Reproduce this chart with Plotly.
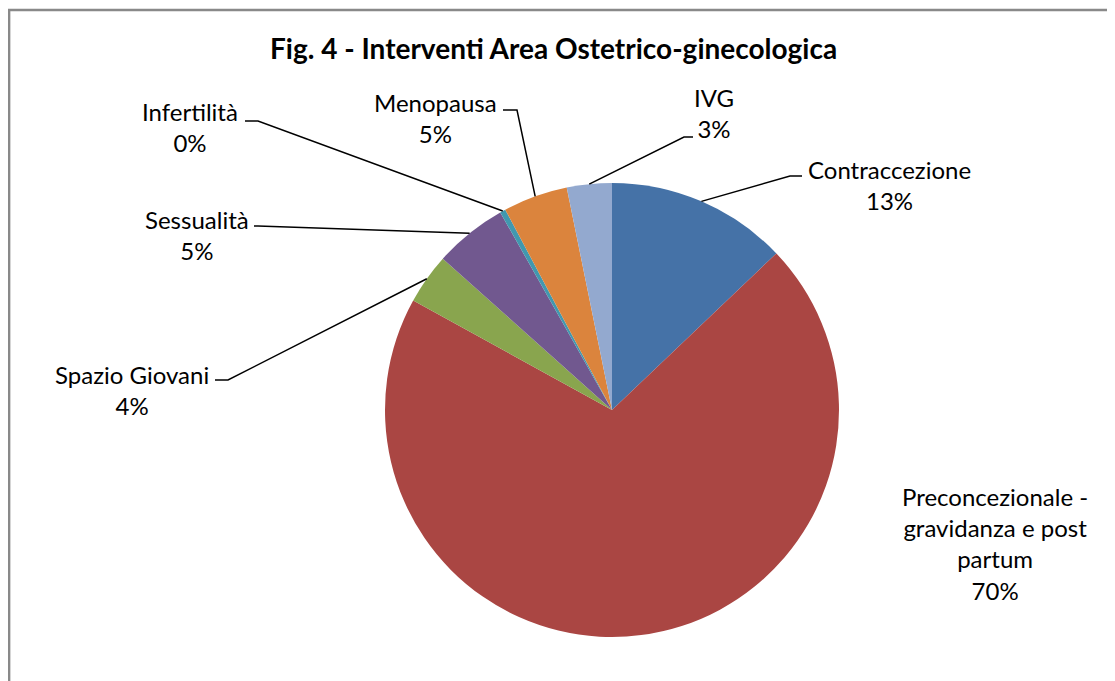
import math
import plotly.graph_objects as go

# data
categories = ["Contraccezione", "Preconcezionale -<br>gravidanza e post<br>partum",
              "Spazio Giovani", "Sessualità", "Infertilità", "Menopausa", "IVG"]
values = [12.9, 70.2, 3.6, 5.2, 0.4, 4.6, 3.2]
colors = ["#4572A7", "#AA4643", "#89A54E", "#71588F", "#4198AF", "#DB843D", "#93A9CF"]

OFF = 8  # page body margin
W, H = 1115 - OFF, 681 - OFF
CX, CY, R = 612, 410, 227  # pie centre / radius in screen pixels

# label block centres (px) and elbow of leader line (px); None = no leader
label_pos = [(889, 185), (995, 543), (132, 390), (197, 235), (190, 127), (435, 118), (714, 113)]
elbows = [((802, 176), (790, 176)), None, ((215, 380), (228, 380)), ((254, 226), (258, 226)),
          ((245, 121), (258, 121)), ((503, 110), (517, 110)), ((693, 137), (684, 137))]

FONT = "Lato"


def px(x, y):
    return (x - OFF) / W, 1 - (y - OFF) / H


fig = go.Figure(go.Pie(
    labels=categories, values=values, sort=False, direction="clockwise", rotation=0,
    marker=dict(colors=colors, line=dict(width=0)), textinfo="none", hoverinfo="label+percent",
    domain=dict(x=[px(CX - R, 0)[0], px(CX + R, 0)[0]], y=[px(0, CY + R)[1], px(0, CY - R)[1]]),
    showlegend=False,
))

total = sum(values)
annotations = []
shapes = []
cum = 0
for i, (cat, v) in enumerate(zip(categories, values)):
    mid = (cum + v / 2) / total * 2 * math.pi
    cum += v
    pct = round(v / total * 100)
    lx, ly = px(*label_pos[i])
    annotations.append(dict(text=f"{cat}<br>{pct}%", x=lx, y=ly, xref="paper", yref="paper",
                            showarrow=False, align="center", xanchor="center", yanchor="middle",
                            font=dict(family=FONT, size=24, color="black")))
    if elbows[i]:
        ex, ey = CX + R * math.sin(mid), CY - R * math.cos(mid)
        (ax, ay), (bx, by) = elbows[i]
        pts = [px(ax, ay), px(bx, by), px(ex, ey)]
        path = "M " + " L ".join(f"{p[0]},{p[1]}" for p in pts)
        shapes.append(dict(type="path", path=path, xref="paper", yref="paper",
                           line=dict(color="black", width=1.5)))

# chart border (left edge sits at the very start of the page area)
by0 = px(0, 10)[1]
shapes.append(dict(type="rect", x0=0.001, y0=-0.1, x1=1.1, y1=by0, xref="paper", yref="paper",
                   line=dict(color="#898989", width=2.5)))

tx, ty = px(553, 48)
annotations.append(dict(text="<b>Fig. 4 - Interventi Area Ostetrico-ginecologica</b>",
                        x=tx, y=ty, xref="paper", yref="paper",
                        showarrow=False, xanchor="center", yanchor="middle",
                        font=dict(family=FONT, size=28, color="black")))

fig.update_layout(width=W, height=H, margin=dict(l=0, r=0, t=0, b=0),
                  paper_bgcolor="white", plot_bgcolor="white",
                  annotations=annotations, shapes=shapes)
fig.write_html("out.html")
